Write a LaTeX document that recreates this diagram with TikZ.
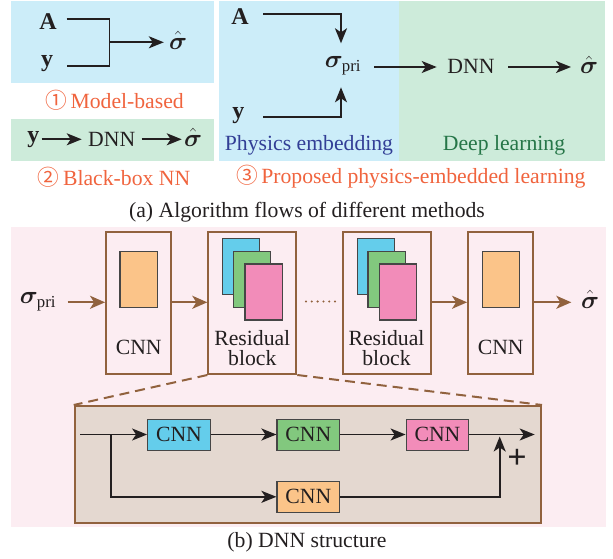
\documentclass[tikz,border=0pt]{standalone}
\usepackage{amsmath}
\usepackage{bm}
\usepackage{fontspec}
\setmainfont{Liberation Serif}
\newfontfamily\cjk{Noto Sans CJK SC}
\usetikzlibrary{arrows.meta}
\definecolor{bluebg}{RGB}{204,237,249}
\definecolor{greenbg}{RGB}{205,235,218}
\definecolor{pinkbg}{RGB}{252,237,242}
\definecolor{orangetxt}{RGB}{240,100,62}
\definecolor{physblue}{RGB}{50,62,150}
\definecolor{deepgreen}{RGB}{38,118,72}
\definecolor{brownc}{RGB}{145,98,62}
\definecolor{boxfill}{RGB}{228,216,208}
\definecolor{cnncyan}{RGB}{100,205,235}
\definecolor{cnngreen}{RGB}{130,200,126}
\definecolor{cnnpink}{RGB}{242,140,185}
\definecolor{cnnorange}{RGB}{251,196,137}
\definecolor{txtc}{RGB}{35,31,32}
\definecolor{laygray}{RGB}{70,70,70}
\newcommand\figfs{\fontsize{21.7}{20}\selectfont}
\newcommand\symfs{\fontsize{24}{24}\selectfont}
\begin{document}
\begin{tikzpicture}[x=1pt,y=-1pt,
  t/.style={inner sep=0pt, text=txtc, font=\figfs},
  sy/.style={inner sep=0pt, text=txtc, font=\symfs},
  ln/.style={line width=1.8pt, draw=txtc},
  arr/.style={ln, -{Stealth[length=15pt,width=12pt,inset=4pt]}},
  barr/.style={line width=2pt, draw=brownc, -{Stealth[length=15pt,width=13pt,inset=4pt]}},
  bbox/.style={draw=brownc, line width=2pt, inner sep=0pt},
  lay/.style={draw=laygray, line width=1.2pt, inner sep=0pt, minimum width=37.3pt, minimum height=56pt},
  cnnb/.style={draw=laygray, line width=1.2pt, inner sep=0pt, minimum width=62.6pt, minimum height=31pt, text=txtc, font=\figfs},
]
\useasboundingbox (0,0) rectangle (613,559);

% ---------- panel 1: model-based
\fill[bluebg] (11,1) rectangle (214,83.3);
\node[sy] (A1) at (48,21.5) {\textbf{A}};
\node[sy] (Y1) at (47,64) {\textbf{y}};
\node[sy] (S1) at (178,40.5) {$\hat{\bm{\sigma}}$};
\coordinate (A1e) at (66.7,19);
\coordinate (Y1e) at (66.7,65.7);
\coordinate (J1) at (109.5,42.3);
\draw[ln] (A1e) -| (J1) |- (Y1e);
\draw[arr, shorten >=5pt] (J1) -- (J1 -| S1.west);
\node[t, text=orangetxt] (L1) at (114.5,100) {{\cjk ①}\,Model-based};

% ---------- panel 2: black-box
\fill[greenbg] (11,119) rectangle (214,160.7);
\node[sy] (Y2) at (33.3,140) {\textbf{y}};
\node[t] (D2) at (111.7,139) {DNN};
\node[sy] (S2) at (193,137.5) {$\hat{\bm{\sigma}}$};
\coordinate (Y2e) at (41.7,139.3);
\coordinate (D2w) at (81.7,139.3);
\coordinate (D2e) at (141.7,139.3);
\coordinate (S2w) at (181.7,139.3);
\draw[arr] (Y2e) -- (D2w);
\draw[arr] (D2e) -- (S2w);
\node[t, text=orangetxt] (L2) at (114,177) {{\cjk ②}\,Black-box NN};

% ---------- panel 3: proposed
\fill[bluebg] (219,1) rectangle (399,160.7);
\fill[greenbg] (399,1) rectangle (605,160.7);
\node[sy] (A3) at (240,17) {\textbf{A}};
\node[sy] (Y3) at (238.3,115.5) {\textbf{y}};
\node[sy] (P3) at (343,66) {$\bm{\sigma}_{\text{pri}}$};
\node[t] (D3) at (471,66) {DNN};
\node[sy] (S3) at (589,65) {$\hat{\bm{\sigma}}$};
\coordinate (A3e) at (263.3,14);
\coordinate (Y3e) at (263.3,117.3);
\coordinate (P3n) at (341,43.3);
\coordinate (P3s) at (341,87.3);
\coordinate (P3e) at (374.3,67);
\coordinate (D3w) at (436.7,67);
\coordinate (D3e) at (508.3,67);
\coordinate (S3w) at (571,67);
\draw[arr] (A3e) -| (P3n);
\draw[arr] (Y3e) -| (P3s);
\draw[arr] (P3e) -- (D3w);
\draw[arr] (D3e) -- (S3w);
\node[t, text=physblue] (PE) at (309,145.7) {Physics embedding};
\node[t, text=deepgreen] (DL) at (504,145.7) {Deep learning};
\node[t, text=orangetxt] (L3) at (410.8,177) {{\cjk ③}\,Proposed physics-embedded learning};

\node[t] (CA) at (307,212) {(a) Algorithm flows of different methods};

% ---------- (b) DNN structure
\fill[pinkbg] (11,227) rectangle (605.7,527.3);
\node[bbox, minimum width=65.3pt, minimum height=142pt] (B1) at (138.7,303) {};
\node[bbox, minimum width=88pt, minimum height=142pt] (B2) at (252.3,303) {};
\node[bbox, minimum width=88.3pt, minimum height=142pt] (B3) at (387.2,303) {};
\node[bbox, minimum width=65.3pt, minimum height=142pt] (B4) at (500.7,303) {};

\node[lay, fill=cnnorange] (O1) at (138.7,279.2) {};
\node[lay, fill=cnnorange] (O4) at (500.8,279.2) {};
\node[lay, fill=cnncyan]  (C2) at (241.2,266.2) {};
\node[lay, fill=cnngreen] (G2) at (252.2,279.3) {};
\node[lay, fill=cnnpink]  (K2) at (263.7,292) {};
\node[lay, fill=cnncyan]  (C3) at (375.8,266.2) {};
\node[lay, fill=cnngreen] (G3) at (386.7,279.3) {};
\node[lay, fill=cnnpink]  (K3) at (398.2,292) {};

\node[t] (T1) at (138.7,347) {CNN};
\node[t, align=center] (T2) at (252.3,348) {Residual\\block};
\node[t, align=center] (T3) at (386.5,348) {Residual\\block};
\node[t] (T4) at (500.7,347) {CNN};

\node[sy] (SP) at (38,302) {$\bm{\sigma}_{\text{pri}}$};
\node[sy] (SH) at (590,299.5) {$\hat{\bm{\sigma}}$};
\coordinate (SPe) at (67.7,302.3);
\coordinate (SHw) at (571.3,302.3);
\draw[barr] (SPe) -- (SPe -| B1.west);
\draw[barr] (B1.east |- SPe) -- (B2.west |- SPe);
\draw[barr] (B3.east |- SPe) -- (B4.west |- SPe);
\draw[barr] (B4.east |- SPe) -- (SHw);
\coordinate (D0) at (306,301.5);
\coordinate (D1) at (335,301.5);
\draw[brownc, line width=2.3pt, line cap=round, dash pattern=on 0pt off 5.8pt] (D0) -- (D1);

% zoomed residual block
\node[bbox, fill=boxfill, minimum width=466.3pt, minimum height=117.3pt] (BIG) at (307.85,464.65) {};
\draw[brownc, line width=2pt, dash pattern=on 10pt off 6pt] (B2.south west) -- (BIG.north west);
\draw[brownc, line width=2pt, dash pattern=on 10pt off 6pt] (B2.south east) -- (BIG.north east);

\node[cnnb, fill=cnncyan]   (N1) at (179,434.8) {CNN};
\node[cnnb, fill=cnngreen]  (N2) at (308.3,434.8) {CNN};
\node[cnnb, fill=cnnpink]   (N3) at (437.5,434.8) {CNN};
\node[cnnb, fill=cnnorange] (N4) at (308.3,496.8) {CNN};
\coordinate (IN) at (80.3,434.5);
\coordinate (BR) at (111,434.5);
\coordinate (MGt) at (499.7,436.5);
\coordinate (OUT) at (534.7,434.5);
\draw[ln] (IN) -- (BR);
\draw[arr] (BR) -- (N1.west |- BR);
\draw[arr] (BR) |- (N4.west);
\draw[arr] (N1.east |- BR) -- (N2.west |- BR);
\draw[arr] (N2.east |- BR) -- (N3.west |- BR);
\draw[arr] (N3.east |- BR) -- (OUT);
\draw[arr] (N4.east) -| (MGt);
\node[inner sep=0pt, text=txtc, font=\fontsize{34}{34}\selectfont\bfseries] (PL) at (517,459) {+};

\node[t] (CB) at (307,542.7) {(b) DNN structure};
\end{tikzpicture}
\end{document}
